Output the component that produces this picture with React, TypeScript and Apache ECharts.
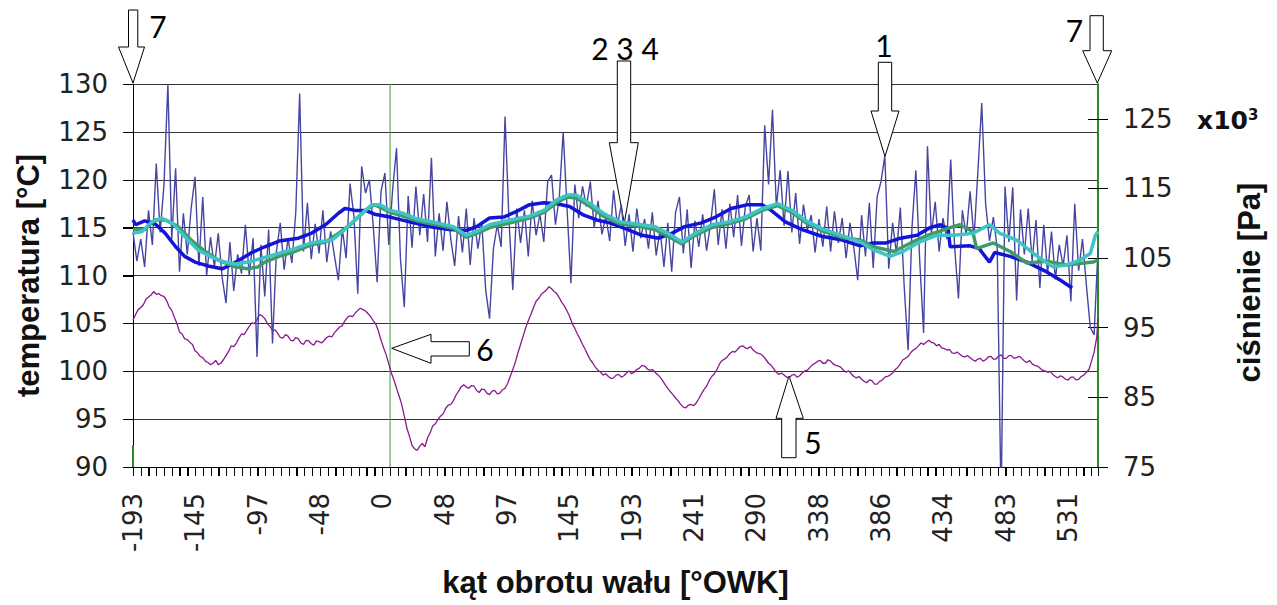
import React, { useEffect, useRef } from "react";
import * as echarts from "echarts";

// ---------- axis / tick data ----------
const xMin = -193;
const xMax = 554;
const xLabelStep = 48.25;
const xTicksPerLabel = 8;
const xTickLabels = ["-193", "-145", "-97", "-48", "0", "48", "97", "145", "193", "241", "290", "338", "386", "434", "483", "531"];
const tempMin = 90;
const tempMax = 130;
const tempTicks = [90, 95, 100, 105, 110, 115, 120, 125, 130];
const presMin = 75;
const presMax = 130;
const presTicks = [75, 85, 95, 105, 115, 125];

// ---------- raw temperature (sampled every 3 deg from -193) ----------
const rawStart = -193;
const rawStep = 3;
const rawTemp = [
  114.5, 111.5, 113.8, 110.9, 116.8, 113.2, 121.7, 114.5, 119.5, 130.0,
  113.8, 121.2, 110.4, 116.5, 112.2, 117.0, 120.3, 111.0, 118.2, 110.0,
  114.0, 110.9, 114.4, 109.8, 107.1, 113.5, 108.4, 112.2, 110.2, 115.3,
  110.0, 113.9, 101.5, 113.2, 107.8, 114.8, 102.9, 112.5, 115.5, 110.6,
  113.9, 111.3, 116.6, 129.0, 112.5, 117.6, 111.7, 115.4, 112.3, 116.8,
  111.4, 114.6, 112.0, 109.5, 114.9, 111.8, 119.6, 116.2, 108.1, 121.4,
  118.6, 120.0, 115.1, 109.3, 118.8, 120.7, 113.2, 119.0, 123.3, 111.8,
  106.7, 118.3, 112.9, 119.3, 114.2, 118.5, 113.5, 122.3, 112.0, 116.5,
  112.6, 117.7, 113.8, 111.0, 116.2, 112.4, 117.0, 111.1, 116.0, 112.8,
  115.6, 108.5, 105.5, 112.8, 115.3, 113.0, 126.6, 115.9, 108.5, 117.0,
  113.4, 116.8, 112.0, 117.8, 114.2, 116.4, 113.5, 119.8, 120.5, 115.3,
  118.2, 125.0, 117.0, 109.2, 119.5, 116.0, 119.3, 117.2, 119.8, 115.0,
  117.8, 114.3, 116.2, 113.6, 118.9, 115.2, 117.4, 113.1, 116.4, 112.5,
  117.0, 113.9, 115.9, 112.8, 116.6, 112.1, 114.8, 110.9, 115.5, 110.4,
  116.6, 118.2, 112.3, 116.9, 110.8, 115.7, 113.0, 116.4, 112.6, 115.3,
  119.0, 113.2, 116.9, 112.8, 117.5, 114.0, 118.4, 113.1, 117.2, 118.4,
  112.5, 116.0, 112.6, 125.7, 119.5, 127.3, 117.2, 121.0, 115.2, 120.9,
  114.5, 118.6, 113.3, 117.4, 114.7, 116.3, 112.4, 115.9, 113.0, 117.2,
  112.5, 116.7, 113.4, 116.0, 111.8, 115.5, 112.9, 109.5, 116.3, 112.0,
  117.6, 110.8, 118.2, 119.8, 122.5, 110.7, 115.5, 112.3, 117.1, 108.8,
  102.2, 115.0, 121.0, 111.5, 104.0, 123.5, 114.3, 117.7, 112.5, 116.0,
  113.8, 122.1, 113.0, 107.6, 116.8, 114.2, 118.8, 113.8, 120.8, 128.0,
  117.5, 113.6, 116.1, 112.8, 86.0, 119.3, 113.5, 119.2, 107.4, 116.9,
  112.2, 117.0, 111.5, 115.8, 108.7, 115.3, 110.2, 114.6, 109.6, 113.2,
  111.0, 114.2, 107.3, 117.5, 110.5, 113.8, 109.0, 104.6, 103.8, 112.8,
];

// ---------- smoothed temperature curves (angle, value) ----------
const blueAngles = [-193, -191, -184, -176, -168, -160, -153, -145, -135, -124, -119, -111, -101, -91, -80, -65, -55, -44, -34, -29, -21, -13, -6, 6, 21, 37, 52, 65, 73, 83, 94, 104, 114, 125, 135, 145, 156, 166, 176, 184, 190, 201, 214, 224, 234, 247, 258, 270, 283, 294, 301, 312, 325, 340, 356, 370, 380, 390, 401, 414, 424, 432, 438, 439.5, 455, 462, 470, 474, 486, 499, 514, 525, 534];
const blueTemps = [115.8, 115.3, 115.7, 115.4, 114.4, 113.0, 112.0, 111.4, 111.0, 110.7, 111.0, 111.6, 112.4, 113.0, 113.6, 113.9, 114.4, 115.3, 116.5, 117.0, 116.8, 116.8, 116.4, 116.1, 115.6, 115.1, 114.8, 114.7, 115.1, 116.0, 116.1, 116.7, 117.4, 117.6, 117.5, 117.2, 116.3, 115.8, 115.5, 115.1, 114.8, 114.2, 113.9, 114.4, 115.1, 115.5, 116.1, 117.0, 117.4, 117.4, 116.8, 115.6, 114.8, 114.1, 113.7, 113.1, 113.4, 113.4, 113.9, 114.2, 115.0, 115.3, 114.9, 113.0, 113.1, 112.8, 111.4, 112.4, 112.0, 111.4, 110.4, 109.5, 108.7];

const greenAngles = [-193, -184, -176, -168, -158, -148, -137, -127, -114, -104, -96, -91, -80, -70, -55, -44, -34, -24, -13, -6, 6, 16, 27, 42, 55, 65, 73, 83, 99, 114, 125, 135, 143, 150, 161, 171, 184, 196, 211, 221, 232, 242, 255, 268, 281, 294, 306, 317, 327, 340, 355, 370, 380, 396, 409, 422, 437, 447, 457, 460, 473, 486, 499, 514, 530, 550, 554];
const greenTemps = [114.8, 114.8, 115.8, 115.8, 115.1, 113.7, 112.5, 111.6, 110.9, 110.7, 110.9, 111.4, 112.0, 112.4, 113.2, 113.5, 114.4, 115.4, 116.8, 117.4, 116.6, 116.2, 115.7, 115.3, 114.9, 114.0, 114.4, 115.0, 115.5, 116.0, 116.6, 117.6, 118.2, 118.1, 117.2, 116.2, 115.4, 115.2, 114.8, 114.1, 113.3, 114.2, 115.0, 115.4, 115.9, 116.8, 117.3, 116.6, 115.6, 114.7, 114.0, 113.7, 113.0, 112.5, 113.4, 114.2, 114.9, 115.3, 114.6, 112.8, 113.4, 112.5, 111.3, 111.5, 111.1, 111.4, 111.6];

const tealAngles = [-193, -186, -178.5, -171, -163, -153, -143, -132, -122, -114, -104, -93, -83, -70, -55, -39, -29, -19, -8, -2, 6, 16, 27, 42, 55, 65, 73, 83, 99, 114, 125, 135, 143, 150, 161, 171, 184, 196, 211, 221, 232, 242, 255, 268, 281, 294, 306, 317, 327, 340, 355, 370, 380, 393, 403, 416, 429, 442, 457, 470, 478, 491, 506, 519, 530, 540, 548, 552, 554];
const tealTemps = [114.4, 114.6, 115.6, 116.0, 115.5, 114.1, 112.7, 111.9, 111.4, 111.2, 111.4, 111.8, 112.2, 112.7, 113.4, 113.7, 114.8, 116.1, 117.4, 117.4, 116.8, 116.5, 115.9, 115.5, 115.1, 114.2, 114.6, 115.3, 115.8, 116.2, 116.8, 117.9, 118.4, 118.4, 117.5, 116.5, 115.6, 115.4, 115.1, 114.4, 113.5, 114.4, 115.3, 115.6, 116.1, 117.0, 117.5, 116.8, 115.8, 114.9, 114.2, 113.5, 112.7, 112.0, 112.5, 113.5, 114.2, 114.2, 114.4, 115.3, 114.4, 113.7, 112.1, 110.9, 111.1, 111.6, 112.3, 114.2, 114.6];

// ---------- pressure [x10^3 Pa], every 2 deg ----------
const presStart = -193;
const presStep = 2;
const presValues = [
  96.1, 96.9, 97.6, 97.9, 98.3, 99.1, 99.4, 99.7, 100.2, 99.8, 99.9, 99.6, 99.5, 98.9, 98.0, 97.5, 96.5, 95.6, 94.4, 94.1,
  93.4, 93.3, 92.9, 92.6, 91.7, 91.4, 90.9, 90.7, 90.2, 90.0, 89.7, 89.9, 90.3, 89.7, 89.9, 90.4, 91.0, 91.6, 92.4, 92.3,
  92.8, 93.5, 94.1, 94.0, 94.6, 95.2, 95.7, 95.6, 96.2, 96.9, 96.7, 96.3, 95.6, 95.2, 94.6, 94.7, 94.2, 93.6, 93.5, 94.0,
  93.8, 93.2, 93.1, 93.6, 93.4, 92.8, 92.6, 93.2, 93.1, 92.7, 92.5, 93.1, 93.0, 92.8, 93.2, 93.6, 93.8, 93.7, 94.3, 94.7,
  95.1, 95.3, 96.0, 96.5, 96.7, 96.6, 97.1, 97.5, 97.8, 97.6, 97.4, 97.0, 96.6, 96.0, 95.5, 94.5, 93.2, 92.1, 91.1, 89.8,
  88.5, 87.5, 86.3, 85.2, 84.0, 82.3, 80.6, 79.4, 78.1, 77.6, 77.4, 78.0, 78.4, 77.9, 79.2, 79.9, 80.9, 81.2, 81.8, 82.3,
  82.6, 83.4, 83.9, 84.0, 84.5, 85.3, 85.9, 86.5, 86.8, 86.5, 86.3, 86.7, 86.6, 86.0, 85.7, 86.2, 86.1, 85.6, 85.4, 85.9,
  86.0, 85.5, 85.6, 86.1, 86.3, 87.0, 88.0, 89.0, 90.1, 91.4, 92.6, 93.8, 95.0, 96.0, 96.9, 97.9, 98.8, 99.2, 99.8, 100.1,
  100.4, 100.9, 100.6, 100.2, 99.9, 99.3, 98.6, 98.1, 97.4, 96.6, 95.6, 94.9, 94.1, 93.4, 92.6, 91.9, 91.1, 90.4, 89.9, 89.3,
  88.9, 88.6, 88.2, 88.4, 88.0, 87.7, 87.8, 88.2, 88.3, 87.9, 88.1, 88.5, 88.8, 88.4, 88.6, 89.0, 89.2, 89.6, 89.5, 89.1,
  88.9, 89.0, 88.6, 88.3, 87.9, 87.4, 86.8, 86.3, 85.8, 85.4, 84.9, 84.5, 84.0, 83.6, 83.5, 83.9, 84.0, 83.8, 84.2, 84.8,
  85.5, 86.1, 86.6, 87.4, 88.0, 88.4, 89.0, 89.8, 90.3, 90.5, 90.8, 91.3, 91.6, 91.5, 91.9, 92.3, 92.4, 92.1, 92.0, 92.3,
  91.8, 91.5, 91.3, 91.2, 90.9, 90.4, 89.9, 89.6, 89.1, 88.6, 88.3, 88.5, 88.2, 87.9, 87.8, 88.2, 88.3, 87.9, 88.1, 88.5,
  88.8, 88.9, 89.3, 89.7, 89.9, 90.2, 90.3, 89.9, 89.9, 90.4, 90.2, 89.8, 89.6, 89.5, 89.3, 88.9, 88.6, 88.8, 88.4, 88.0,
  87.8, 88.0, 87.6, 87.3, 87.1, 87.5, 87.4, 86.9, 86.9, 87.3, 87.5, 87.9, 88.0, 88.2, 88.5, 89.0, 89.3, 89.8, 90.4, 90.6,
  90.9, 91.4, 91.8, 92.0, 92.4, 92.8, 92.6, 92.9, 93.2, 92.9, 92.8, 92.4, 92.6, 92.1, 92.0, 91.8, 91.9, 91.4, 91.3, 91.5,
  91.2, 90.9, 90.8, 91.0, 90.7, 90.4, 90.2, 90.5, 90.6, 90.2, 90.4, 90.8, 90.9, 90.5, 90.5, 90.9, 91.1, 90.6, 90.6, 91.0,
  91.0, 90.6, 90.7, 90.9, 90.6, 90.2, 90.0, 90.3, 89.8, 89.6, 89.5, 89.2, 88.9, 88.8, 88.6, 88.7, 88.3, 88.0, 87.8, 88.1,
  87.9, 87.6, 87.5, 87.9, 87.9, 87.5, 87.6, 88.0, 88.2, 88.6, 89.0, 90.2, 91.5, 93.6, 96.4,
];

// ---------- vertical marker lines ----------
const markerTdcAngle = 6;
const markerStartAngle = -193;
const markerStartTop = 92.3;

const zip = (xs: number[], ys: number[]) => xs.map((x, i) => [x, ys[i]]);

// tick / label positions along the angle axis
const xLabelValues = xTickLabels.map((_, i) => xMin + i * xLabelStep);
const xTickValues: number[] = [];
for (let i = 0; xMin + (i * xLabelStep) / xTicksPerLabel <= xMax + 1e-9; i++) {
  xTickValues.push(xMin + (i * xLabelStep) / xTicksPerLabel);
}
xTickValues.push(xMax);

function xLabel(v: number): string {
  const k = (v - xMin) / xLabelStep;
  const r = Math.round(k);
  if (Math.abs(k - r) > 1e-4) return "";
  return xTickLabels[r] ?? "";
}

const arrowStyle = { fill: "#ffffff", stroke: "#000000", lineWidth: 1 };
const annoFont = { fontFamily: "Lato", fontSize: 30, fill: "#000", align: "center", verticalAlign: "middle" };
const titleFont = { fontFamily: "Liberation Sans", fontWeight: "bold", fontSize: 31, color: "#111" };
const tickFont = { fontFamily: "DejaVu Sans", fontSize: 26, color: "#222" };

const annotationGraphic: any[] = [
  { type: "polygon", z: 1, shape: { points: [[128.5, 10], [137.8, 10], [137.8, 47], [144.5, 47], [133, 83], [118.5, 47], [128.5, 47]] }, style: arrowStyle },
  { type: "polygon", z: 1, shape: { points: [[617.3, 61], [630.7, 61], [630.7, 142.7], [638.3, 142.7], [624.3, 223], [609.3, 142.7], [617.3, 142.7]] }, style: arrowStyle },
  { type: "polygon", z: 1, shape: { points: [[878.3, 62.3], [891.7, 62.3], [891.7, 111], [899, 111], [885, 156.5], [871, 111], [878.3, 111]] }, style: arrowStyle },
  { type: "polygon", z: 1, shape: { points: [[1090, 15.7], [1103.3, 15.7], [1103.3, 50.7], [1111.7, 50.7], [1097.3, 83], [1082.7, 50.7], [1090, 50.7]] }, style: arrowStyle },
  { type: "polygon", z: 1, shape: { points: [[391.7, 348.3], [431, 334.3], [431, 341.7], [469.3, 341.7], [469.3, 356], [431, 356], [431, 363.3]] }, style: arrowStyle },
  { type: "polygon", z: 1, shape: { points: [[789, 376], [803.3, 418.3], [796, 418.3], [796, 457.7], [781.7, 457.7], [781.7, 418.3], [776, 418.3]] }, style: arrowStyle },
  { type: "text", z: 100, x: 158, y: 26, style: { ...annoFont, text: "7" } },
  { type: "text", z: 100, x: 625, y: 48, style: { ...annoFont, text: "2 3 4" } },
  { type: "text", z: 100, x: 884, y: 45, style: { ...annoFont, text: "1" } },
  { type: "text", z: 100, x: 1074.5, y: 30, style: { ...annoFont, text: "7" } },
  { type: "text", z: 100, x: 485, y: 349, style: { ...annoFont, text: "6" } },
  { type: "text", z: 100, x: 813, y: 442, style: { ...annoFont, text: "5" } },
  {
    type: "text",
    z: 100,
    x: 1197,
    y: 120,
    style: {
      text: "{a|x10}{b|3}",
      align: "left",
      verticalAlign: "middle",
      rich: {
        a: { fontFamily: "DejaVu Sans", fontWeight: "bold", fontSize: 25, fill: "#111", color: "#111" },
        b: { fontFamily: "DejaVu Sans", fontWeight: "bold", fontSize: 15, fill: "#111", color: "#111", verticalAlign: "top" },
      },
    },
  },
];

function buildOption(): any {
  const rawData = rawTemp.map((v, i) => [rawStart + i * rawStep, v]);
  const presData = presValues.map((v, i) => [Math.min(presStart + i * presStep, xMax), v]);
  return {
    animation: false,
    backgroundColor: "#ffffff",
    grid: { left: 133, right: 179, top: 84, bottom: 138, containLabel: false },
    xAxis: {
      type: "value",
      position: "bottom",
      min: xMin,
      max: xMax,
      interval: xLabelStep,
      axisLine: { show: true, onZero: false, lineStyle: { color: "#000", width: 1 } },
      axisTick: { show: true, inside: false, length: 9, customValues: xTickValues, lineStyle: { color: "#000", width: 1 } },
      axisLabel: { show: true, rotate: 90, margin: 26, customValues: xLabelValues, formatter: xLabel, ...tickFont },
      splitLine: { show: false },
      name: "kąt obrotu wału [°OWK]",
      nameLocation: "middle",
      nameGap: 100,
      nameTextStyle: titleFont,
    },
    yAxis: [
      {
        type: "value",
        position: "left",
        min: tempMin,
        max: tempMax,
        interval: 5,
        axisLine: { show: true, onZero: false, lineStyle: { color: "#000", width: 1 } },
        axisTick: { show: true, length: 10, customValues: tempTicks, lineStyle: { color: "#000" } },
        axisLabel: { margin: 25, customValues: tempTicks, formatter: (v: number) => String(v), ...tickFont },
        splitLine: { show: true, lineStyle: { color: "#333", width: 1 } },
        name: "temperatura [°C]",
        nameLocation: "middle",
        nameRotate: 90,
        nameGap: 89,
        nameTextStyle: titleFont,
      },
      {
        type: "value",
        position: "right",
        min: presMin,
        max: presMax,
        interval: 5,
        axisLine: { show: true, onZero: false, lineStyle: { color: "#2a8a2a", width: 2 } },
        axisTick: { show: true, length: 10, customValues: presTicks, lineStyle: { color: "#000" } },
        axisLabel: {
          margin: 25,
          customValues: presTicks,
          formatter: (v: number) => (presTicks.indexOf(v) >= 0 ? String(v) : ""),
          ...tickFont,
        },
        splitLine: { show: false },
        name: "ciśnienie [Pa]",
        nameLocation: "middle",
        nameRotate: 90,
        nameGap: 136,
        nameTextStyle: { ...titleFont, padding: [0, 14, 0, 0] },
      },
      {
        type: "value",
        position: "right",
        min: presMin,
        max: presMax,
        interval: 5,
        axisLine: { show: false, onZero: false },
        axisTick: { show: true, inside: true, length: 10, customValues: presTicks, lineStyle: { color: "#000" } },
        axisLabel: { show: false },
        splitLine: { show: false },
      },
    ],
    series: [
      {
        name: "znacznik GMP",
        type: "line",
        yAxisIndex: 0,
        data: [[markerTdcAngle, tempMin], [markerTdcAngle, tempMax]],
        symbol: "none",
        lineStyle: { color: "#5aaa5a", width: 1.2 },
        z: 1,
      },
      {
        name: "znacznik początku",
        type: "line",
        yAxisIndex: 0,
        data: [[markerStartAngle, tempMin], [markerStartAngle, markerStartTop]],
        symbol: "none",
        lineStyle: { color: "#2a8a2a", width: 2 },
        z: 3,
      },
      {
        name: "ciśnienie",
        type: "line",
        yAxisIndex: 1,
        data: presData,
        symbol: "none",
        lineStyle: { color: "#8a1a8a", width: 1.3 },
        z: 2,
      },
      {
        name: "temperatura chwilowa",
        type: "line",
        yAxisIndex: 0,
        data: rawData,
        symbol: "none",
        clip: true,
        lineStyle: { color: "#4646a2", width: 1.4 },
        z: 3,
      },
      {
        name: "temperatura 1",
        type: "line",
        yAxisIndex: 0,
        data: zip(blueAngles, blueTemps),
        symbol: "none",
        lineStyle: { color: "#1414d6", width: 3.5 },
        z: 4,
      },
      {
        name: "temperatura 2",
        type: "line",
        yAxisIndex: 0,
        data: zip(greenAngles, greenTemps),
        symbol: "none",
        lineStyle: { color: "#3f9a66", width: 3.5 },
        z: 5,
      },
      {
        name: "temperatura 3",
        type: "line",
        yAxisIndex: 0,
        data: zip(tealAngles, tealTemps),
        symbol: "none",
        lineStyle: { color: "#3ec4c4", width: 3.5 },
        z: 6,
      },
    ],
    graphic: annotationGraphic,
  };
}

// tick marks on the bottom and left axes, positioned through the chart's own scales
function buildTickGraphic(chart: any): any[] {
  const finder = { xAxisIndex: 0, yAxisIndex: 0 };
  const els: any[] = [];
  xTickValues.forEach((v) => {
    const p = chart.convertToPixel(finder, [v, tempMin]);
    if (!p) return;
    const x = Math.round(p[0]) + 0.5;
    els.push({ type: "line", z: 50, silent: true, shape: { x1: x, y1: p[1], x2: x, y2: p[1] + 9 }, style: { stroke: "#000", lineWidth: 1 } });
  });
  tempTicks.forEach((v) => {
    const p = chart.convertToPixel(finder, [xMin, v]);
    if (!p) return;
    const y = Math.round(p[1]) + 0.5;
    els.push({ type: "line", z: 50, silent: true, shape: { x1: p[0] - 10, y1: y, x2: p[0], y2: y }, style: { stroke: "#000", lineWidth: 1 } });
  });
  return els;
}

export default function App() {
  const ref = useRef<HTMLDivElement>(null);
  useEffect(() => {
    if (!ref.current) return;
    const chart = echarts.init(ref.current, null, { renderer: "svg" });
    chart.setOption(buildOption());
    const ticks = buildTickGraphic(chart);
    chart.setOption({ graphic: [...annotationGraphic, ...ticks] });
    return () => chart.dispose();
  }, []);
  return (
    <div
      ref={ref}
      style={{ position: "fixed", left: 0, top: 0, width: 1277, height: 605, background: "#ffffff" }}
    />
  );
}
